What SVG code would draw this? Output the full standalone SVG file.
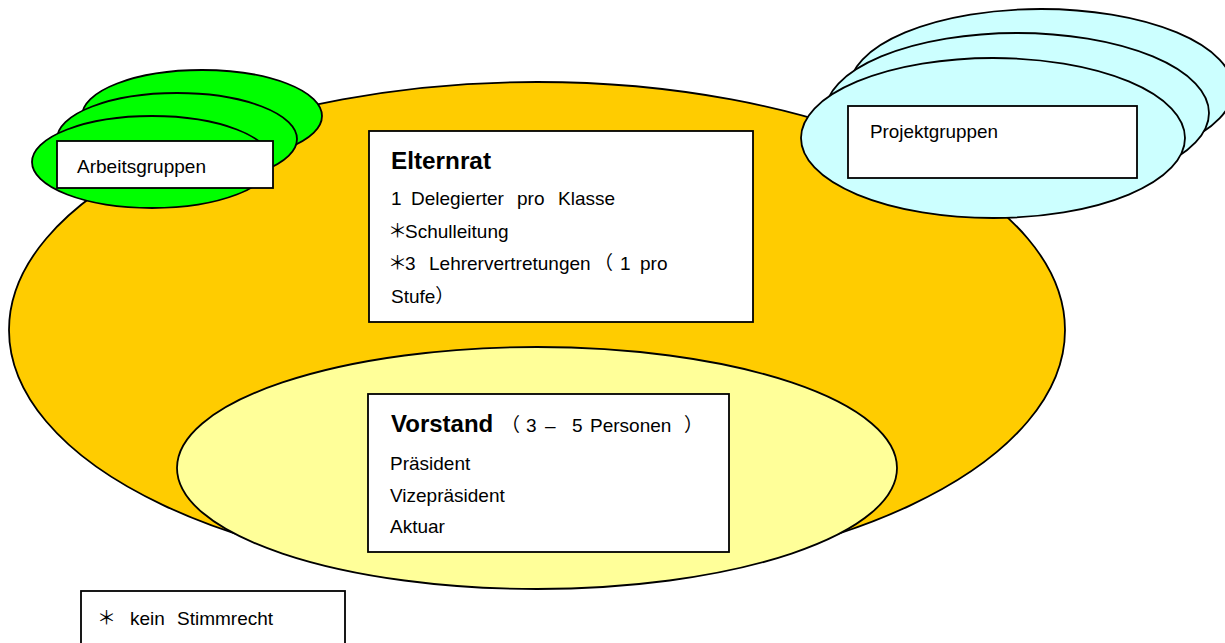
<svg xmlns="http://www.w3.org/2000/svg" width="1225" height="643" viewBox="0 0 1225 643">
<style>
.ell{stroke:#000;stroke-width:1.8}
.box{fill:#fff;stroke:#000;stroke-width:1.8}
text{font-family:"Liberation Sans","Noto Sans CJK JP",sans-serif;font-size:19px;fill:#000}
.title{font-size:24px;font-weight:bold}
</style>
<rect width="1225" height="643" fill="#fff"/>
<g id="elternrat-bereich">
<ellipse class="ell" cx="537" cy="330" rx="528" ry="248" fill="#FFCC00"/>
</g>
<g id="arbeitsgruppen">
<ellipse class="ell" cx="202" cy="116" rx="120" ry="46" fill="#00FF00"/>
<ellipse class="ell" cx="177" cy="139" rx="120" ry="46" fill="#00FF00"/>
<ellipse class="ell" cx="152" cy="162" rx="120" ry="46" fill="#00FF00"/>
<rect class="box" x="57" y="141" width="216" height="47"/>
<text x="77" y="173" textLength="129" lengthAdjust="spacingAndGlyphs" font-size="18">Arbeitsgruppen</text>
</g>
<g id="projektgruppen">
<ellipse class="ell" cx="1041" cy="89" rx="192" ry="80" fill="#CCFFFF"/>
<ellipse class="ell" cx="1017" cy="113" rx="192" ry="80" fill="#CCFFFF"/>
<ellipse class="ell" cx="993" cy="138" rx="192" ry="80" fill="#CCFFFF"/>
<rect class="box" x="848" y="106" width="289" height="72"/>
<text x="870" y="138" textLength="128" lengthAdjust="spacingAndGlyphs" font-size="18">Projektgruppen</text>
</g>
<g id="elternrat">
<rect class="box" x="369" y="131" width="384" height="191"/>
<text class="title" x="391" y="169" textLength="100" lengthAdjust="spacingAndGlyphs">Elternrat</text>
<text y="205"><tspan x="391">1</tspan><tspan x="411">Delegierter</tspan><tspan x="517">pro</tspan><tspan x="558">Klasse</tspan></text>
<text y="238"><tspan x="388">＊</tspan><tspan x="405">Schulleitung</tspan></text>
<text y="270"><tspan x="388">＊</tspan><tspan x="405">3</tspan><tspan x="429">Lehrervertretungen</tspan><tspan x="594">（</tspan><tspan x="620">1</tspan><tspan x="640">pro</tspan></text>
<text x="391" y="303">Stufe）</text>
</g>
<g id="vorstand-bereich">
<ellipse class="ell" cx="537" cy="468" rx="360" ry="121" fill="#FFFF99"/>
</g>
<g id="vorstand">
<rect class="box" x="368" y="394" width="361" height="158"/>
<text y="432"><tspan class="title" x="391">Vorstand</tspan><tspan x="501">（</tspan><tspan x="526">3</tspan><tspan x="545">–</tspan><tspan x="572">5</tspan><tspan x="590">Personen</tspan><tspan x="684">）</tspan></text>
<text x="390" y="470">Präsident</text>
<text x="390" y="502">Vizepräsident</text>
<text x="390" y="533">Aktuar</text>
</g>
<g id="legende">
<rect class="box" x="81" y="591" width="264" height="70"/>
<text y="625" font-size="18"><tspan x="97">＊</tspan><tspan x="130">kein</tspan><tspan x="177">Stimmrecht</tspan></text>
</g>
<g id="connectors"></g>
</svg>
